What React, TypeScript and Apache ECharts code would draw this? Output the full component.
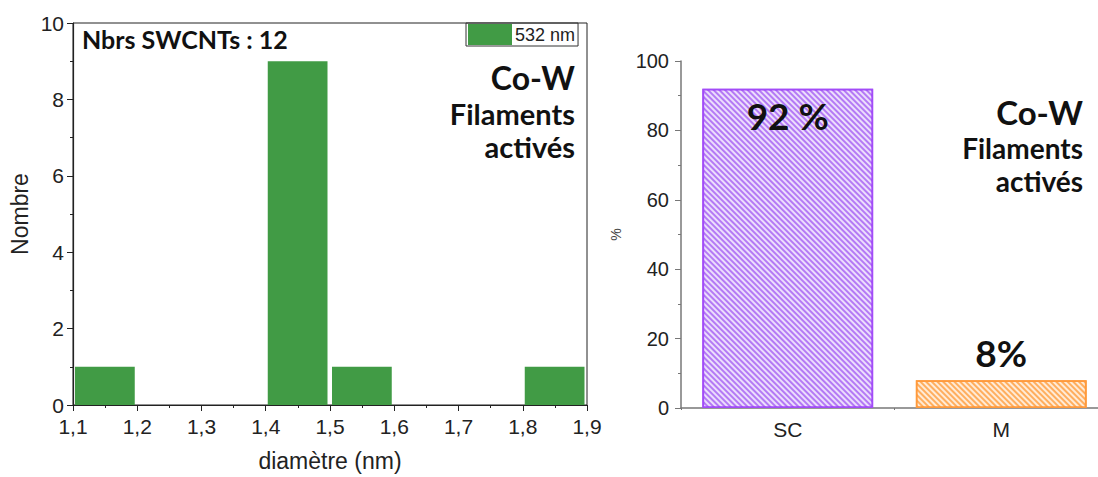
import React, { useEffect, useRef } from "react";
import * as echarts from "echarts";

// ---- Left chart: histogram of diameters ----
const binStarts = [1.1, 1.2, 1.3, 1.4, 1.5, 1.6, 1.7, 1.8];
const binWidth = 0.1;
const counts = [1, 0, 0, 9, 1, 0, 0, 1];
const histSeriesName = "532 nm";
const histNote = "Nbrs SWCNTs : 12";

// ---- Right chart: SC vs M ----
const typeCategories = ["SC", "M"];
const typePercents = [92, 8];
const typeLabels = ["92 %", "8%"];

const sampleLines = ["Co-W", "Filaments", "activés"];

const AX = "Liberation Sans, Arial, sans-serif";
const BOLD = "Lato, 'Open Sans', sans-serif";

export default function App() {
  const ref = useRef<HTMLDivElement>(null);
  useEffect(() => {
    if (!ref.current) return;
    const chart = echarts.init(ref.current, null, { renderer: "svg" });

    const histData = binStarts.map((s, i) => [s, +(s + binWidth).toFixed(2), counts[i]]);

    const option: any = {
      animation: false,
      backgroundColor: "#fff",
      legend: {
        data: [histSeriesName],
        left: 466,
        top: 23,
        icon: "rect",
        itemWidth: 44,
        itemHeight: 21,
        itemGap: 0,
        padding: [1, 3, 1, 2],
        borderColor: "#333",
        borderWidth: 1,
        textStyle: { fontFamily: AX, fontSize: 18, color: "#222", padding: [0, 0, 0, -2] },
      },
      grid: [
        { left: 73, top: 23, width: 514, height: 384, show: true, borderColor: "#222", borderWidth: 1, containLabel: false },
        { left: 681, top: 61, width: 427, height: 347, containLabel: false },
      ],
      xAxis: [
        {
          type: "value",
          gridIndex: 0,
          min: 1.1,
          max: 1.9,
          interval: 0.1,
          splitLine: { show: false },
          axisLine: { lineStyle: { color: "#222", width: 1.2 } },
          axisTick: { length: 6, lineStyle: { color: "#222" } },
          minorTick: { show: true, splitNumber: 2, length: 3, lineStyle: { color: "#222" } },
          axisLabel: {
            fontFamily: AX,
            fontSize: 21,
            color: "#222",
            margin: 11,
            formatter: (v: number) => v.toFixed(1).replace(".", ","),
          },
          name: "diamètre (nm)",
          nameLocation: "middle",
          nameGap: 44,
          nameTextStyle: { fontFamily: AX, fontSize: 23, color: "#222" },
        },
        {
          type: "category",
          gridIndex: 1,
          position: "bottom",
          data: typeCategories,
          axisLine: { lineStyle: { color: "#777", width: 1.5 } },
          axisTick: { alignWithLabel: true, length: 6, lineStyle: { color: "#777", width: 1.2 } },
          axisLabel: { fontFamily: AX, fontSize: 21, color: "#222", margin: 11 },
        },
        {
          type: "category",
          gridIndex: 1,
          position: "bottom",
          offset: 0,
          data: typeCategories,
          axisLine: { show: false },
          axisTick: { show: true, length: 2, lineStyle: { color: "#777" } },
          axisLabel: { show: false },
        },
      ],
      yAxis: [
        {
          type: "value",
          gridIndex: 0,
          min: 0,
          max: 10,
          interval: 2,
          splitLine: { show: false },
          axisLine: { show: true, lineStyle: { color: "#222", width: 1.2 } },
          axisTick: { show: true, length: 6, lineStyle: { color: "#222" } },
          minorTick: { show: true, splitNumber: 2, length: 3, lineStyle: { color: "#222" } },
          axisLabel: { fontFamily: AX, fontSize: 21, color: "#222", margin: 9 },
          name: "Nombre",
          nameLocation: "middle",
          nameGap: 42,
          nameRotate: 90,
          nameTextStyle: { fontFamily: AX, fontSize: 23, color: "#222" },
        },
        {
          type: "value",
          gridIndex: 1,
          min: 0,
          max: 100,
          interval: 20,
          splitLine: { show: false },
          axisLine: { show: true, lineStyle: { color: "#777", width: 1.5 } },
          axisTick: { show: true, length: 6, lineStyle: { color: "#777" } },
          minorTick: { show: true, splitNumber: 2, length: 3, lineStyle: { color: "#777" } },
          axisLabel: { fontFamily: AX, fontSize: 20, color: "#222", margin: 12 },
          name: "%",
          nameLocation: "middle",
          nameGap: 58,
          nameRotate: 90,
          nameTextStyle: { fontFamily: AX, fontSize: 14, color: "#444" },
        },
      ],
      series: [
        {
          type: "custom",
          name: histSeriesName,
          xAxisIndex: 0,
          yAxisIndex: 0,
          itemStyle: { color: "#419b45" },
          encode: { x: [0, 1], y: 2 },
          data: histData,
          renderItem: (params: any, api: any) => {
            const x0 = api.value(0);
            const x1 = api.value(1);
            const y = api.value(2);
            const p0 = api.coord([x0, y]);
            const p1 = api.coord([x1, 0]);
            return {
              type: "rect",
              shape: { x: p0[0] + 2, y: p0[1], width: p1[0] - p0[0] - 4.5, height: p1[1] - p0[1] },
              style: { fill: "#419b45" },
            };
          },
        },
        {
          type: "bar",
          xAxisIndex: 1,
          yAxisIndex: 1,
          barWidth: "80%",
          data: typePercents.map((v, i) => {
            const isFirst = i === 0;
            const base = isFirst ? "#b47af5" : "#ffae5e";
            const edge = isFirst ? "#a24cf8" : "#ff9a3c";
            return {
              value: v,
              itemStyle: {
                color: base,
                borderColor: edge,
                borderWidth: 1.8,
                decal: {
                  symbol: "rect",
                  symbolSize: 1,
                  color: "rgba(255,255,255,0.75)",
                  dashArrayX: [1, 0],
                  dashArrayY: [1.3, 1.6],
                  rotation: Math.PI / 4,
                },
              },
              label: {
                show: true,
                formatter: typeLabels[i],
                position: isFirst ? "insideTop" : "top",
                distance: isFirst ? 8 : 9,
                fontFamily: BOLD,
                fontWeight: "bold",
                fontSize: 37,
                color: "#111",
              },
            };
          }),
        },
      ],
      graphic: [
        {
          type: "text",
          left: 82,
          top: 26,
          style: { text: histNote, fontFamily: BOLD, fontWeight: "bold", fontSize: 25, fill: "#111" },
        },
        ...[
          { x: 575, y0: 77, s1: 32, s2: 29 },
          { x: 1083, y0: 112, s1: 33, s2: 28 },
        ].flatMap((p) => [
          {
            type: "text",
            x: p.x,
            y: p.y0,
            style: { text: sampleLines[0], fontFamily: BOLD, fontWeight: "bold", fontSize: p.s1, fill: "#111", align: "right", verticalAlign: "middle" },
          },
          {
            type: "text",
            x: p.x,
            y: p.y0 + 36,
            style: { text: sampleLines[1], fontFamily: BOLD, fontWeight: "bold", fontSize: p.s2, fill: "#111", align: "right", verticalAlign: "middle" },
          },
          {
            type: "text",
            x: p.x,
            y: p.y0 + 69,
            style: { text: sampleLines[2], fontFamily: BOLD, fontWeight: "bold", fontSize: p.s2, fill: "#111", align: "right", verticalAlign: "middle" },
          },
        ]),
      ],
    };
    chart.setOption(option);
    return () => chart.dispose();
  }, []);
  return (
    <div style={{ width: 1098, height: 477, overflow: "hidden", position: "absolute", left: 0, top: 0 }}>
      <div ref={ref} style={{ width: 1120, height: 477 }} />
    </div>
  );
}
